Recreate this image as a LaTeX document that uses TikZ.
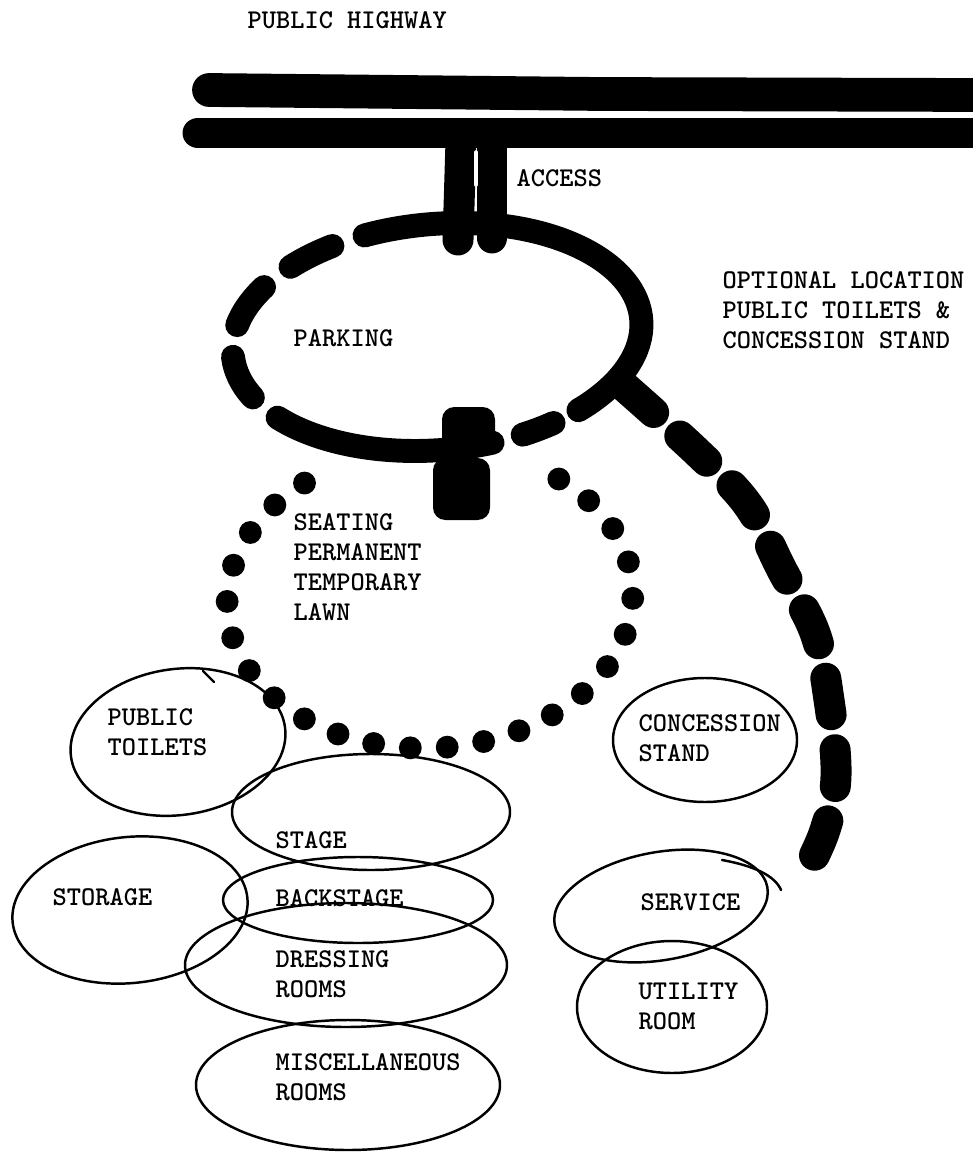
\documentclass[tikz,border=0pt]{standalone}
\usepackage{fontspec}

\begin{document}
\begin{tikzpicture}[
            x = 0.01cm, y = 0.01cm, % one unit is one hundredth of a cm
            line cap = round, % blobby pen ends
            every node/.style = {
                font = \ttfamily\bfseries\fontsize{7.7}{8.5}\selectfont,
                inner sep = 0pt,
                anchor = west,
                align = left
            }
        ]

        \tikzstyle{road}=[line width = 8.8pt]
        \tikzstyle{lot}=[line width = 6.8pt]
        \tikzstyle{seatdots}=[line width = 6.5pt, dash pattern = on 0pt off 10.5pt]
        \tikzstyle{optional}=[line width = 8.8pt, dash pattern = on 10.5pt off 10pt]
        \tikzstyle{room}=[draw = black, line width = 0.7pt]

        \useasboundingbox (0,0) rectangle (972,-1152);

        % highway and access road
        \draw[road, line width = 9.6pt] (209,-90) -- (600,-94) -- (980,-95);
        \draw[road] (198,-133) -- (980,-133);
        \draw[road] (461,-140) -- (458,-240);
        \draw[road] (492,-140) -- (492,-238);
        \draw[white, line width = 1pt] (476,-152) -- (476,-185);

        % parking loop, drawn in pieces
        \begin{scope}[shift = {(437,-337)}, rotate = 5]
            \foreach \a/\b in {118/133, 145/165, 181/203, 216/283, 292/302, 311/468}
                \draw[lot] (\a:205 and 113) arc[start angle = \a, end angle = \b,
                    x radius = 205, y radius = 113];
        \end{scope}

        % link from parking down to the seating
        \fill[rounded corners = 3.5pt] (442,-407) rectangle (495,-450);
        \fill[rounded corners = 3.5pt] (433,-458) rectangle (490,-520);

        % seating ring
        \begin{scope}[shift = {(430,-598)}, rotate = 3]
            \draw[seatdots] (126:203 and 150)
                arc[start angle = 126, end angle = 410, x radius = 203, y radius = 150];
        \end{scope}

        % optional route
        \draw[optional] plot[smooth, tension = 0.6] coordinates {
            (626,-388) (697,-452) (748,-505) (782,-570) (815,-633)
            (829,-700) (836,-776) (825,-830) (806,-872)};

        % room bubbles
        \draw[room, rotate around = {8:(178,-742)}] (178,-742) ellipse [x radius = 108, y radius = 73];
        \draw[room] (203,-671) -- (214,-682);
        \draw[room] (371,-812) ellipse [x radius = 139, y radius = 58];
        \draw[room, rotate around = {6:(130,-910)}] (130,-910) ellipse [x radius = 118, y radius = 73];
        \draw[room] (358,-900) ellipse [x radius = 135, y radius = 43];
        \draw[room] (346,-965) ellipse [x radius = 161, y radius = 62];
        \draw[room] (348,-1085) ellipse [x radius = 152, y radius = 65];
        \draw[room] (705,-740) ellipse [x radius = 92, y radius = 62];
        \draw[room, rotate around = {10:(661,-906)}] (661,-906) ellipse [x radius = 108, y radius = 54];
        \draw[room] (722,-860) .. controls (755,-866) and (775,-876) .. (781,-890);
        \draw[room] (672,-1007) ellipse [x radius = 95, y radius = 66];

        % labels
        \node (highway) at (247,-20) {PUBLIC HIGHWAY};
        \node (access) at (516,-178) {ACCESS};
        \node (optional) at (722,-310) {OPTIONAL LOCATION\\PUBLIC TOILETS \&\\CONCESSION STAND};
        \node (parking) at (293,-338) {PARKING};
        \node (seating) at (293,-567) {SEATING\\PERMANENT\\TEMPORARY\\LAWN};
        \node (toilets) at (107,-732) {PUBLIC\\TOILETS};
        \node (stage) at (275,-840) {STAGE};
        \node (storage) at (52,-897) {STORAGE};
        \node (backstage) at (275,-898) {BACKSTAGE};
        \node (dressing) at (275,-974) {DRESSING\\ROOMS};
        \node (misc) at (275,-1077) {MISCELLANEOUS\\ROOMS};
        \node (concession) at (638,-738) {CONCESSION\\STAND};
        \node (service) at (640,-902) {SERVICE};
        \node (utility) at (638,-1006) {UTILITY\\ROOM};

    \end{tikzpicture}
\end{document}
